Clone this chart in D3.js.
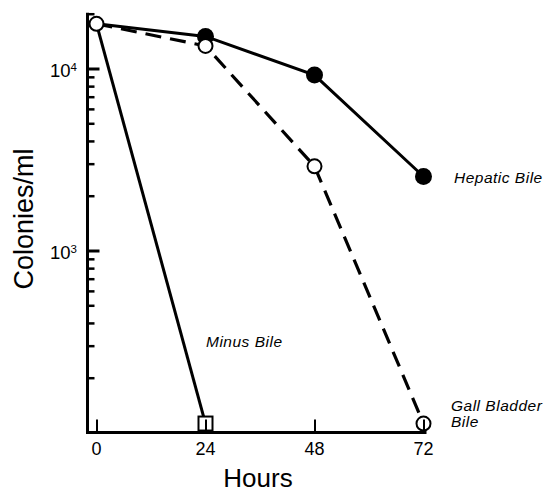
<!DOCTYPE html>
<html>
<head>
<meta charset="utf-8">
<script src="https://cdn.jsdelivr.net/npm/d3@7"></script>
<style>
  body { margin: 0; background: #fff; }
  svg { display: block; font-family: "Liberation Sans", Arial, sans-serif; }
</style>
</head>
<body>
<div id="chart"></div>
<script>
// data
const hours = [0, 24, 48, 72];
const hepaticBile = [17600, 15000, 9200, 2550];
const gallBladderBile = [17600, 13300, 2900, 112];
const minusBileHours = [0, 24];
const minusBile = [17600, 112];

const xTicks = [0, 24, 48, 72];
const yMajor = [1000, 10000];
const yMinor = [200, 300, 400, 500, 600, 700, 800, 900,
                2000, 3000, 4000, 5000, 6000, 7000, 8000, 9000, 20000];

const width = 546, height = 492;

const svg = d3.select("#chart").append("svg")
    .attr("width", width)
    .attr("height", height);

// scales
const x = d3.scaleLinear().domain([0, 72]).range([96.5, 423.5]);
const y = d3.scaleLog().domain([100, 20000]).range([432.5, 432.5 - 182 * Math.log10(200)]);

const axisX = 87.5;

// y axis ticks (pointing inward)
svg.append("g")
    .attr("transform", `translate(${axisX},0)`)
    .call(d3.axisRight(y).tickValues(yMinor).tickSize(7).tickFormat(""))
    .call(g => g.select(".domain").remove())
    .call(g => g.selectAll("line").attr("stroke", "#000").attr("stroke-width", 2.5));

svg.append("g")
    .attr("transform", `translate(${axisX},0)`)
    .call(d3.axisRight(y).tickValues(yMajor).tickSize(12).tickFormat(""))
    .call(g => g.select(".domain").remove())
    .call(g => g.selectAll("line").attr("stroke", "#000").attr("stroke-width", 3));

// y tick labels 10^3, 10^4
yMajor.forEach(v => {
    const t = svg.append("text")
        .attr("x", 77)
        .attr("y", y(v) + 8)
        .attr("text-anchor", "end")
        .style("font-size", "18.5px");
    t.append("tspan").text("10");
    t.append("tspan").text(Math.round(Math.log10(v)))
        .attr("dy", -6)
        .style("font-size", "11.5px");
});

// axis lines
svg.append("line")
    .attr("x1", axisX).attr("x2", axisX)
    .attr("y1", y(20000) - 1).attr("y2", y(100) + 1.5)
    .attr("stroke", "#000").attr("stroke-width", 3);

svg.append("line")
    .attr("x1", axisX - 1.5).attr("x2", x(72) + 3)
    .attr("y1", y(100)).attr("y2", y(100))
    .attr("stroke", "#000").attr("stroke-width", 3);

// lines
const line = d3.line().x(d => x(d[0])).y(d => y(d[1]));

svg.append("path")
    .datum(d3.zip(minusBileHours, minusBile))
    .attr("d", line)
    .attr("fill", "none").attr("stroke", "#000").attr("stroke-width", 3);

svg.append("path")
    .datum(d3.zip(hours, gallBladderBile))
    .attr("d", line)
    .attr("fill", "none").attr("stroke", "#000").attr("stroke-width", 3.2)
    .attr("stroke-dasharray", "16,9");

svg.append("path")
    .datum(d3.zip(hours, hepaticBile))
    .attr("d", line)
    .attr("fill", "none").attr("stroke", "#000").attr("stroke-width", 3);

// markers
svg.selectAll(".hep")
    .data(d3.zip(hours, hepaticBile).slice(1))
    .enter().append("circle")
    .attr("class", "hep")
    .attr("cx", d => x(d[0])).attr("cy", d => y(d[1]))
    .attr("r", 8.5).attr("fill", "#000");

svg.append("rect")
    .attr("x", x(24) - 7).attr("y", y(112) - 7)
    .attr("width", 14).attr("height", 14)
    .attr("fill", "#fff").attr("stroke", "#000").attr("stroke-width", 2);

svg.selectAll(".gall")
    .data(d3.zip(hours, gallBladderBile))
    .enter().append("circle")
    .attr("class", "gall")
    .attr("cx", d => x(d[0])).attr("cy", d => y(d[1]))
    .attr("r", 7).attr("fill", "#fff")
    .attr("stroke", "#000").attr("stroke-width", 2);

// x axis ticks (pointing up, drawn over markers)
svg.append("g")
    .attr("transform", `translate(0,${y(100)})`)
    .call(d3.axisTop(x).tickValues(xTicks).tickSize(13).tickFormat(""))
    .call(g => g.select(".domain").remove())
    .call(g => g.selectAll("line").attr("stroke", "#000").attr("stroke-width", 2));

svg.selectAll(".xlab")
    .data(xTicks)
    .enter().append("text")
    .attr("class", "xlab")
    .attr("x", d => x(d))
    .attr("y", 455)
    .attr("text-anchor", "middle")
    .style("font-size", "18px")
    .text(d => d);

// axis titles
svg.append("text")
    .attr("transform", "translate(33,219) rotate(-90)")
    .attr("text-anchor", "middle")
    .style("font-size", "27px")
    .text("Colonies/ml");

svg.append("text")
    .attr("x", 258).attr("y", 487)
    .attr("text-anchor", "middle")
    .style("font-size", "26px")
    .text("Hours");

// series labels
const labelStyle = sel => sel
    .style("font-size", "15.5px")
    .style("font-style", "italic")
    .style("letter-spacing", "0.5px");

svg.append("text").attr("x", 454).attr("y", 183).text("Hepatic Bile").call(labelStyle);
svg.append("text").attr("x", 206).attr("y", 347).text("Minus Bile").call(labelStyle);
svg.append("text").attr("x", 451).attr("y", 410.5).text("Gall Bladder").call(labelStyle);
svg.append("text").attr("x", 451).attr("y", 426.5).text("Bile").call(labelStyle);
</script>
</body>
</html>
